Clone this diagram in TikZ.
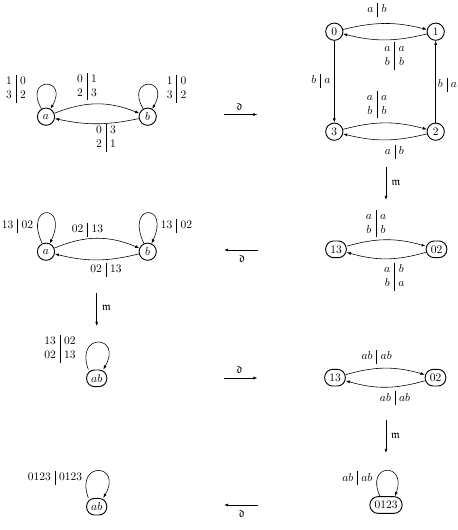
\documentclass[tikz,border=0pt]{standalone}
\usepackage{amssymb}
\usetikzlibrary{arrows.meta}
\setlength{\arraycolsep}{3.5pt}
\newcommand\lone[2]{$\begin{array}{@{}c|c@{}}#1&#2\end{array}$}
\newcommand\ltwo[4]{$\begin{array}{@{}c|c@{}}#1&#2\\#3&#4\end{array}$}
\begin{document}
\begin{tikzpicture}[x=0.87pt,y=0.87pt,
  st/.style={draw,thick,circle,minimum size=15pt,inner sep=0pt},
  rst/.style={draw,thick,rounded corners=7pt,minimum height=14.5pt,minimum width=15pt,inner xsep=4pt,inner ysep=0pt},
  tr/.style={-{Latex[length=3.6pt,width=2.6pt]},line width=0.5pt},
  lbl/.style={inner sep=0pt},
  op/.style={-{Latex[length=3.6pt,width=2.6pt]},line width=0.5pt}]
\useasboundingbox (0,0) rectangle (457,-530);
% ---------- panel 1
\node[st] (a1) at (46,-116.7) {$a$};
\node[st] (b1) at (147.7,-116.7) {$b$};
\draw[tr] (a1) to[bend left=22] (b1);
\draw[tr] (b1) to[bend left=12] (a1);
\draw[tr] (a1) to[out=120,in=60,distance=32.5pt] (a1);
\draw[tr] (b1) to[out=120,in=60,distance=32.5pt] (b1);
\node[lbl] (l11) at (16,-89) {\ltwo{1}{0}{3}{2}};
\node[lbl] (l12) at (87,-86.7) {\ltwo{0}{1}{2}{3}};
\node[lbl] (l13) at (176.7,-89) {\ltwo{1}{0}{3}{2}};
\node[lbl] (l14) at (106,-138) {\ltwo{0}{3}{2}{1}};
% ---------- panel 2
\node[st] (n0) at (334.3,-31.7) {$0$};
\node[st] (n1) at (435.7,-31.7) {$1$};
\node[st] (n3) at (334.3,-131.7) {$3$};
\node[st] (n2) at (435.7,-131.7) {$2$};
\draw[tr] (n0) to[bend left=14] (n1);
\draw[tr] (n1) to[bend left=14] (n0);
\draw[tr] (n0) -- (n3);
\draw[tr] (n2) -- (n1);
\draw[tr] (n3) to[bend left=15] (n2);
\draw[tr] (n2) to[bend left=14] (n3);
\node[lbl] (l21) at (377,-10) {\lone{a}{b}};
\node[lbl] (l22) at (394.5,-56) {\ltwo{a}{a}{b}{b}};
\node[lbl] (l23) at (321,-81) {\lone{b}{a}};
\node[lbl] (l24) at (447.5,-85) {\lone{b}{a}};
\node[lbl] (l25) at (377,-104.7) {\ltwo{a}{a}{b}{b}};
\node[lbl] (l26) at (394.3,-151.7) {\lone{a}{b}};
% ---------- panel 3
\node[rst] (m13) at (336,-249.3) {$13$};
\node[rst] (m02) at (436.5,-249.3) {$02$};
\draw[tr] (m13) to[bend left=16] (m02);
\draw[tr] (m02) to[bend left=16] (m13);
\node[lbl] (l31) at (376,-223.7) {\ltwo{a}{a}{b}{b}};
\node[lbl] (l32) at (394.3,-277) {\ltwo{a}{b}{b}{a}};
% ---------- panel 4
\node[st] (a4) at (46,-251.7) {$a$};
\node[st] (b4) at (147.7,-251.7) {$b$};
\draw[tr] (a4) to[bend left=23] (b4);
\draw[tr] (b4) to[bend left=14] (a4);
\draw[tr] (a4) to[out=115,in=65,distance=39pt] (a4);
\draw[tr] (b4) to[out=115,in=65,distance=39pt] (b4);
\node[lbl] (l41) at (17.5,-226) {\lone{13}{02}};
\node[lbl] (l42) at (87.5,-230) {\lone{02}{13}};
\node[lbl] (l43) at (176.5,-226) {\lone{13}{02}};
\node[lbl] (l44) at (106,-270) {\lone{02}{13}};
% ---------- panel 5
\node[rst] (ab5) at (96.7,-378.3) {$ab$};
\draw[tr] ([xshift=-7.3pt]ab5.north) to[out=110,in=60,distance=34.8pt] ([xshift=5.7pt]ab5.north);
\node[lbl] (l51) at (60,-349) {\ltwo{13}{02}{02}{13}};
% ---------- panel 6
\node[rst] (k13) at (335,-377.7) {$13$};
\node[rst] (k02) at (435.5,-377.7) {$02$};
\draw[tr] (k13) to[bend left=16] (k02);
\draw[tr] (k02) to[bend left=16] (k13);
\node[lbl] (l61) at (376.7,-356.7) {\lone{ab}{ab}};
\node[lbl] (l62) at (395,-398.3) {\lone{ab}{ab}};
% ---------- panel 7
\node[rst] (z7) at (386,-505) {$0123$};
\draw[tr] ([xshift=-5.2pt]z7.north) to[out=115,in=70,distance=32pt] ([xshift=7.8pt]z7.north);
\node[lbl] (l71) at (357.3,-478.3) {\lone{ab}{ab}};
% ---------- panel 8
\node[rst] (ab8) at (96.7,-506.7) {$ab$};
\draw[tr] ([xshift=-7.3pt]ab8.north) to[out=110,in=60,distance=34.8pt] ([xshift=5.7pt]ab8.north);
\node[lbl] (l81) at (55,-477.7) {\lone{0123}{0123}};
% ---------- operators
\coordinate (d1s) at (224,-114.5); \coordinate (d1e) at (257.5,-114.5);
\draw[op] (d1s) -- (d1e);
\node[lbl] (d1) at (239.5,-106.5) {$\mathfrak{d}$};
\coordinate (m1s) at (386,-167); \coordinate (m1e) at (386,-200);
\draw[op] (m1s) -- (m1e);
\node[lbl] (m1) at (396,-183) {$\mathfrak{m}$};
\coordinate (d2s) at (258.3,-250); \coordinate (d2e) at (224,-250);
\draw[op] (d2s) -- (d2e);
\node[lbl] (d2) at (242,-259) {$\mathfrak{d}$};
\coordinate (m2s) at (96.7,-293); \coordinate (m2e) at (96.7,-326);
\draw[op] (m2s) -- (m2e);
\node[lbl] (m2) at (106.5,-308) {$\mathfrak{m}$};
\coordinate (d3s) at (224,-378); \coordinate (d3e) at (257.5,-378);
\draw[op] (d3s) -- (d3e);
\node[lbl] (d3) at (239.5,-370) {$\mathfrak{d}$};
\coordinate (m3s) at (386,-420); \coordinate (m3e) at (386,-453);
\draw[op] (m3s) -- (m3e);
\node[lbl] (m3) at (395.5,-436) {$\mathfrak{m}$};
\coordinate (d4s) at (258.3,-505); \coordinate (d4e) at (224,-505);
\draw[op] (d4s) -- (d4e);
\node[lbl] (d4) at (241.7,-514) {$\mathfrak{d}$};
\end{tikzpicture}
\end{document}
